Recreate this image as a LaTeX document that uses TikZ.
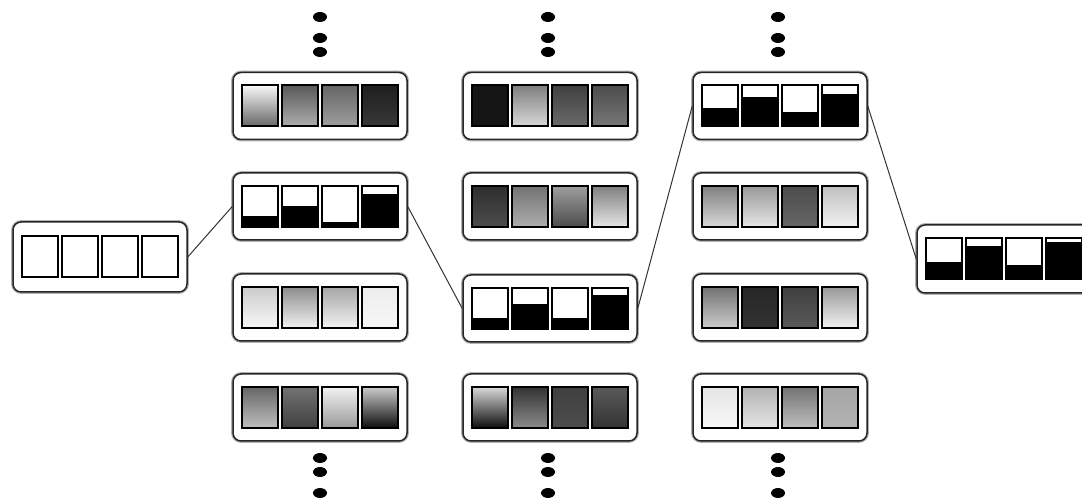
\documentclass[tikz,border=0pt]{standalone}
\usetikzlibrary{calc}
\tikzset{
  outerbox/.style={rectangle, rounded corners=8pt, minimum width=174pt, minimum height=67pt,
    draw=black!85, line width=1.5pt, fill=white,
    preaction={draw=black!30, line width=3.8pt}},
  sqline/.style={draw=black, line width=2pt},
  conn/.style={draw=black!80, line width=1pt},
  dotmark/.style={fill=black}
}
% gradient square: box name, offset, top white %, bottom white %
\newcommand{\gradsq}[4]{%
  \shadedraw[sqline, top color=white!#3!black, bottom color=white!#4!black]
    ($(#1.center)+({#2-18},-20.5)$) rectangle ($(#1.center)+({#2+18},20.5)$);}
% level square: box name, offset, black fraction
\newcommand{\levelsq}[3]{%
  \fill[white] ($(#1.center)+({#2-18},-20.5)$) rectangle ($(#1.center)+({#2+18},20.5)$);
  \fill[black] ($(#1.center)+({#2-18},-20.5)$) rectangle ($(#1.center)+({#2+18},{-20.5+41*#3})$);
  \draw[sqline] ($(#1.center)+({#2-18},-20.5)$) rectangle ($(#1.center)+({#2+18},20.5)$);}
\newcommand{\gradbox}[9]{%
  \gradsq{#1}{-60}{#2}{#3}\gradsq{#1}{-20}{#4}{#5}\gradsq{#1}{20}{#6}{#7}\gradsq{#1}{60}{#8}{#9}}
\newcommand{\levelbox}[5]{%
  \levelsq{#1}{-60}{#2}\levelsq{#1}{-20}{#3}\levelsq{#1}{20}{#4}\levelsq{#1}{60}{#5}}
\newcommand{\topdots}[1]{%
  \fill[dotmark] (#1,-17) ellipse (7pt and 5pt);
  \fill[dotmark] (#1,-38) ellipse (7pt and 5pt);
  \fill[dotmark] (#1,-52) ellipse (7pt and 5pt);}
\newcommand{\bottomdots}[1]{%
  \fill[dotmark] (#1,-458) ellipse (7pt and 5pt);
  \fill[dotmark] (#1,-472) ellipse (7pt and 5pt);
  \fill[dotmark] (#1,-493) ellipse (7pt and 5pt);}
\begin{document}
\begin{tikzpicture}[x=1pt,y=1pt]
\path[use as bounding box, clip] (0,0) rectangle (1082,-502);
\fill[white] (0,0) rectangle (1082,-502);

% boxes
\node[outerbox, minimum height=70pt] (start) at (100,-257) {};
\node[outerbox] (a1) at (320,-106) {};
\node[outerbox] (a2) at (320,-206.5) {};
\node[outerbox] (a3) at (320,-307.5) {};
\node[outerbox] (a4) at (320,-407.5) {};
\node[outerbox] (b1) at (550,-106) {};
\node[outerbox] (b2) at (550,-206.5) {};
\node[outerbox] (b3) at (550,-308.5) {};
\node[outerbox] (b4) at (550,-407.5) {};
\node[outerbox] (c1) at (780,-106) {};
\node[outerbox] (c2) at (780,-206.5) {};
\node[outerbox] (c3) at (780,-307.5) {};
\node[outerbox] (c4) at (780,-407.5) {};
\node[outerbox, minimum height=68pt] (final) at (1004,-259) {};

% connectors
\draw[conn] (start.east) -- (a2.west);
\draw[conn] (a2.east) -- (b3.west);
\draw[conn] (b3.east) -- (c1.west);
\draw[conn] (c1.east) -- (final.west);

% squares
\levelbox{start}{0}{0}{0}{0}
\gradbox{a1}{97}{40}{35}{68}{40}{62}{12}{22}
\levelbox{a2}{0.26}{0.5}{0.13}{0.8}
\gradbox{a3}{80}{97}{55}{95}{65}{95}{93}{97}
\gradbox{a4}{40}{75}{45}{25}{95}{60}{80}{5}
\gradbox{b1}{8}{8}{50}{85}{25}{42}{30}{47}
\gradbox{b2}{18}{30}{45}{68}{62}{30}{50}{90}
\levelbox{b3}{0.28}{0.62}{0.28}{0.83}
\gradbox{b4}{85}{5}{20}{55}{25}{30}{35}{20}
\levelbox{c1}{0.44}{0.72}{0.36}{0.8}
\gradbox{c2}{50}{85}{60}{90}{30}{40}{75}{95}
\gradbox{c3}{45}{80}{15}{20}{25}{35}{60}{95}
\gradbox{c4}{90}{97}{70}{90}{45}{75}{65}{70}
\levelbox{final}{0.42}{0.81}{0.35}{0.92}

% ellipsis dots
\topdots{320}\topdots{548}\topdots{778}
\bottomdots{320}\bottomdots{548}\bottomdots{778}
\end{tikzpicture}
\end{document}
